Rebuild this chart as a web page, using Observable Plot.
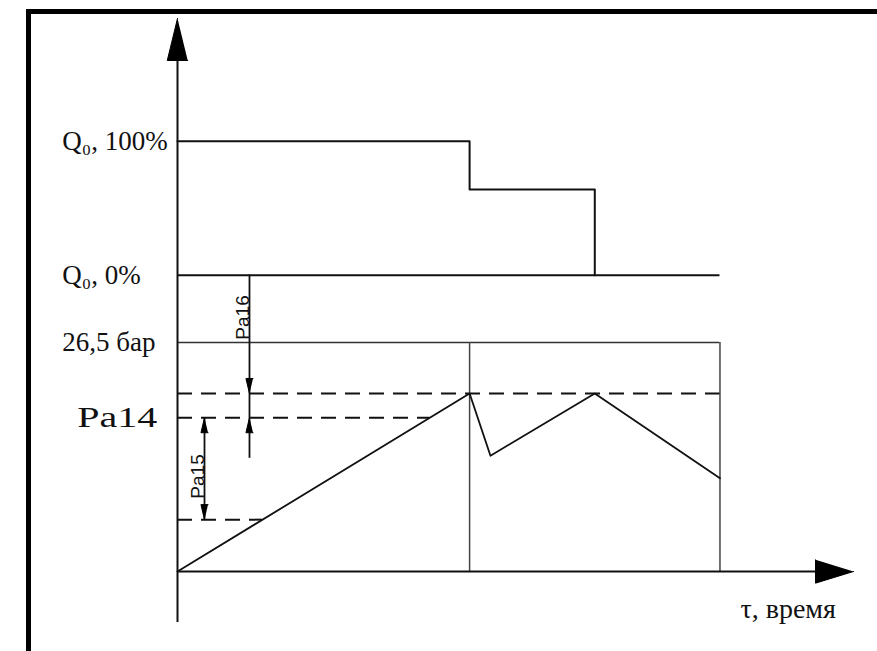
<!DOCTYPE html>
<html>
<head>
<meta charset="utf-8">
<script src="https://cdn.jsdelivr.net/npm/d3@7"></script>
<script src="https://cdn.jsdelivr.net/npm/@observablehq/plot@0.6"></script>
<style>
  html, body { margin: 0; padding: 0; background: #fff; }
  #wrap { position: relative; width: 877px; height: 651px; overflow: hidden; }
  #wrap svg { position: absolute; left: 0; top: 0; }
  #border { position: absolute; left: 26px; top: 9px; width: 900px; height: 700px;
            border-left: 5px solid #000; border-top: 5px solid #000; pointer-events: none; }
</style>
</head>
<body>
<div id="wrap"><div id="border"></div></div>
<script>
// ---- Data ----
// Flow (Q) step profile: time -> percent of Q0
const qTime = [0, 7, 10];
const qPct = [100, 64, 0];
const qEnd = 13;
// Pressure profile: time -> bar
const pTime = [0, 7, 7.5, 10, 13];
const pBar = [0, 20.6, 13.4, 20.6, 10.8];
// Pressure levels
const pMax = 26.5;   // 26,5 бар
const pUpper = 20.6; // upper set point (Pa16 lower limit)
const pPa14 = 17.8;  // Pa14
const pPa15 = 6.0;   // lower limit of Pa15
// Time marks for pressure frame
const tSwitch = 7;
const tEnd = 13;
// Labels
const rowLabels = ["Q₀, 100%", "Q₀, 0%", "26,5 бар", "Pa14"];
const xLabel = "τ, время";
const dimLabels = ["Pa16", "Pa15"];

// ---- Layout (vertical placement of the Q band in y units) ----
const qBaseY = 34.3, qTopY = 49.8;
const qY = p => qBaseY + p * (qTopY - qBaseY) / 100;
const xMax = 16.2, yMax = 64, yMin = -5.9;

const qData = qTime.map((t, i) => ({t, y: qY(qPct[i])}));
const pData = pTime.map((t, i) => ({t, p: pBar[i]}));

// intersection of ramp with a level
const rampX = lvl => tSwitch * lvl / pBar[1];

// triangles (arrow heads)
function tri(id, tipX, tipY, dir, len, half) {
  if (dir === "up") return [{id, x: tipX, y: tipY}, {id, x: tipX - half, y: tipY - len}, {id, x: tipX + half, y: tipY - len}];
  if (dir === "down") return [{id, x: tipX, y: tipY}, {id, x: tipX - half, y: tipY + len}, {id, x: tipX + half, y: tipY + len}];
  return [{id, x: tipX, y: tipY}, {id, x: tipX - len, y: tipY - half}, {id, x: tipX - len, y: tipY + half}];
}
const dim16X = 1.725, dim15X = 0.647;
const smallLen = 1.74, smallHalf = 0.085;
const heads = [
  ...tri("yaxis", 0, yMax, "up", 4.86, 0.245),
  ...tri("xaxis", xMax, 0, "right", 0.91, 1.35),
  ...tri("a16d", dim16X, pUpper, "down", smallLen, smallHalf),
  ...tri("a16u", dim16X, pPa14, "up", smallLen, smallHalf),
  ...tri("a15u", dim15X, pPa14, "up", smallLen, smallHalf),
  ...tri("a15d", dim15X, pPa15, "down", smallLen, smallHalf)
];

const labelRows = [
  {label: rowLabels[0], y: qY(100), x: -2.76, size: 27},
  {label: rowLabels[1], y: qY(0), x: -2.76, size: 27},
  {label: rowLabels[2], y: pMax, x: -2.76, size: 27},
  {label: rowLabels[3], y: pPa14, x: -2.40, size: 29}
];

const serif = "'Liberation Serif', 'Times New Roman', Times, serif";
const sans = "'Liberation Sans', Arial, sans-serif";

const chart = Plot.plot({
  width: 877,
  height: 651,
  marginLeft: 177,
  marginRight: 24,
  marginTop: 18,
  marginBottom: 80,
  x: {domain: [0, xMax], axis: null},
  y: {domain: [0, yMax], axis: null},
  marks: [
    // pressure frame
    Plot.ruleY([pMax], {x1: 0, x2: tEnd, stroke: "#333", strokeWidth: 1.5}),
    Plot.ruleX([tSwitch, tEnd], {y1: 0, y2: pMax, stroke: "#444", strokeWidth: 1.5}),
    // dashed levels
    Plot.ruleY([pUpper], {x1: 0, x2: tEnd, stroke: "#111", strokeWidth: 2, strokeDasharray: "15,9"}),
    Plot.ruleY([pPa14], {x1: 0, x2: rampX(pPa14), stroke: "#111", strokeWidth: 2, strokeDasharray: "15,9"}),
    Plot.ruleY([pPa15], {x1: 0, x2: rampX(pPa15), stroke: "#111", strokeWidth: 2, strokeDasharray: "15,9"}),
    // Q baseline and step profile
    Plot.ruleY([qY(0)], {x1: 0, x2: qEnd, stroke: "#111", strokeWidth: 2}),
    Plot.line(qData, {x: "t", y: "y", curve: "step-after", stroke: "#111", strokeWidth: 2}),
    // pressure profile
    Plot.line(pData, {x: "t", y: "p", stroke: "#111", strokeWidth: 1.8}),
    // axes
    Plot.ruleX([0], {y1: yMin, y2: yMax - 1, stroke: "#111", strokeWidth: 2}),
    Plot.ruleY([0], {x1: 0, x2: xMax - 0.5, stroke: "#111", strokeWidth: 2}),
    // dimension lines
    Plot.ruleX([dim16X], {y1: qY(0), y2: 13.1, stroke: "#111", strokeWidth: 1.8}),
    Plot.ruleX([dim15X], {y1: pPa14, y2: pPa15, stroke: "#111", strokeWidth: 1.8}),
    // arrow heads
    Plot.line(heads, {x: "x", y: "y", z: "id", fill: "#000", stroke: "#000", strokeWidth: 1}),
    // labels
    Plot.text(labelRows, {x: "x", y: "y", text: "label", textAnchor: "start", lineAnchor: "middle",
      fontFamily: serif, fontSize: d => d.size, fill: "#111"}),
    Plot.text([xLabel], {x: 13.49, y: -4.4, text: d => d, textAnchor: "start", lineAnchor: "middle",
      fontFamily: serif, fontSize: 28, fill: "#111"}),
    Plot.text([{label: dimLabels[0], x: dim16X, y: 29.4}, {label: dimLabels[1], x: dim15X, y: 11.0}],
      {x: "x", y: "y", text: "label", rotate: -90, textAnchor: "middle", lineAnchor: "bottom", dy: 0,
       fontFamily: sans, fontSize: 19, fill: "#111"})
  ]
});
// the Pa14 label is drawn somewhat wider in the reference
chart.querySelectorAll("text").forEach(t => {
  if (t.textContent === rowLabels[3]) {
    const tr = t.getAttribute("transform") || "";
    t.setAttribute("transform", tr + " scale(1.38,1)");
  }
});
document.getElementById("wrap").prepend(chart);
</script>
</body>
</html>
